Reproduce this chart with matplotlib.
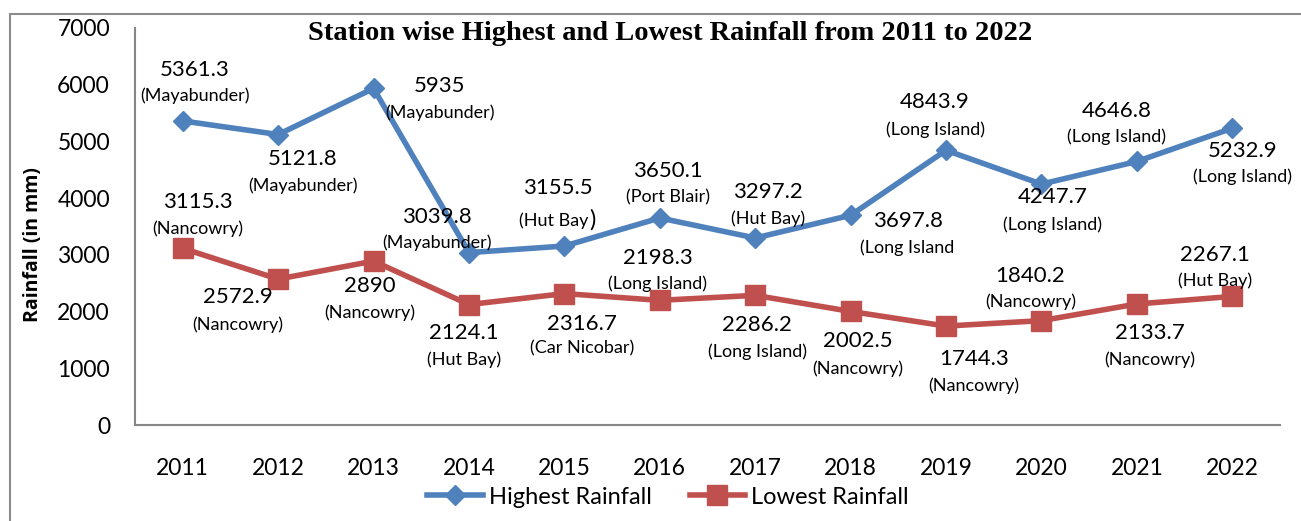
import matplotlib.pyplot as plt
from matplotlib.patches import Rectangle

# data
years = ["2011", "2012", "2013", "2014", "2015", "2016",
         "2017", "2018", "2019", "2020", "2021", "2022"]
highest = [5361.3, 5121.8, 5935, 3039.8, 3155.5, 3650.1,
           3297.2, 3697.8, 4843.9, 4247.7, 4646.8, 5232.9]
lowest = [3115.3, 2572.9, 2890, 2124.1, 2316.7, 2198.3,
          2286.2, 2002.5, 1744.3, 1840.2, 2133.7, 2267.1]
highest_station = ["(Mayabunder)", "(Mayabunder)", "(Mayabunder)", "(Mayabunder)",
                   "(Hut Bay", "(Port Blair)", "(Hut Bay)", "(Long Island",
                   "(Long Island)", "(Long Island)", "(Long Island)", "(Long Island)"]
lowest_station = ["(Nancowry)", "(Nancowry)", "(Nancowry)", "(Hut Bay)",
                  "(Car Nicobar)", "(Long Island)", "(Long Island)", "(Nancowry)",
                  "(Nancowry)", "(Nancowry)", "(Nancowry)", "(Hut Bay)"]

# label offsets in pixels (value text, station text share x)
hi_off = [(12, 51, 25), (25, -24, -51), (66, 2, -24), (-32, 36, 10),
          (-7, 58, 25), (8, 47, 21), (13, 46, 19), (57, -6, -32),
          (-11, 48, 21), (11, -13, -41), (-20, 50, 25), (10, -23, -48)]
lo_off = [(15, 46, 20), (-40, -18, -46), (-4, -25, -52), (-5, -28, -55),
          (18, -30, -55), (-2, 42, 17), (2, -30, -56), (7, -30, -57),
          (28, -33, -60), (-11, 45, 19), (13, -29, -56), (-17, 41, 16)]

BLUE = "#4F81BD"
RED = "#C0504D"
SANS = "Lato"

fig = plt.figure(figsize=(13.01, 5.21), dpi=100)
ax = fig.add_axes([135 / 1301, 96 / 521, 1145 / 1301, 397 / 521])

# outer chart frame
fig.patches.append(Rectangle((10 / 1301, -0.1), 1.2, 1.1 - 14 / 521,
                             transform=fig.transFigure, fill=False,
                             edgecolor="#8c8c8c", linewidth=1.5))

x = list(range(len(years)))
ax.plot(x, highest, color=BLUE, lw=4, marker="D", ms=10, mec=BLUE,
        label="Highest Rainfall")
ax.plot(x, lowest, color=RED, lw=4, marker="s", ms=14, mec=RED,
        label="Lowest Rainfall")

for vals, names, offs in [(highest, highest_station, hi_off),
                          (lowest, lowest_station, lo_off)]:
    for i, (v, n, o) in enumerate(zip(vals, names, offs)):
        ax.annotate(f"{v:g}", (i, v), xytext=(o[0], o[1]),
                    textcoords="offset pixels", ha="center", va="center",
                    fontsize=16, family=SANS)
        if n == "(Hut Bay":
            # the odd oversized closing bracket in the original
            ax.annotate(n, (i, v), xytext=(o[0] + 31, o[2]),
                        textcoords="offset pixels", ha="right", va="center",
                        fontsize=13, family=SANS)
            ax.annotate(")", (i, v), xytext=(o[0] + 32, o[2] + 1),
                        textcoords="offset pixels", ha="left", va="center",
                        fontsize=17, family=SANS)
        else:
            ax.annotate(n, (i, v), xytext=(o[0], o[2]),
                        textcoords="offset pixels", ha="center", va="center",
                        fontsize=13, family=SANS)

ax.set_xlim(-0.5, len(years) - 0.5)
ax.set_ylim(0, 7000)
ax.set_yticks(range(0, 7001, 1000))
ax.set_xticks(x)
ax.set_xticklabels(years)
ax.tick_params(length=0, labelsize=16.5)
ax.tick_params(axis="y", pad=18)
ax.tick_params(axis="x", pad=24)
for t in ax.get_xticklabels() + ax.get_yticklabels():
    t.set_family(SANS)

for s in ["top", "right"]:
    ax.spines[s].set_visible(False)
for s in ["left", "bottom"]:
    ax.spines[s].set_color("#868686")
    ax.spines[s].set_linewidth(1.5)

fig.text(670 / 1301, 1 - 33 / 521,
         "Station wise Highest and Lowest Rainfall from 2011 to 2022",
         ha="center", va="center", fontsize=20.5, fontweight="bold",
         family="Liberation Serif")
fig.text(33 / 1301, 1 - 245 / 521, "Rainfall (in mm)", rotation=90,
         ha="center", va="center", fontsize=14, fontweight="bold",
         family="Open Sans")

ax.legend(loc="center", bbox_to_anchor=(668 / 1301, 1 - 497 / 521),
          bbox_transform=fig.transFigure, ncol=2, frameon=False,
          prop={"family": SANS, "size": 17}, handlelength=2.35,
          handletextpad=0.25, columnspacing=1.6)

fig.savefig("out.png", dpi=100)
